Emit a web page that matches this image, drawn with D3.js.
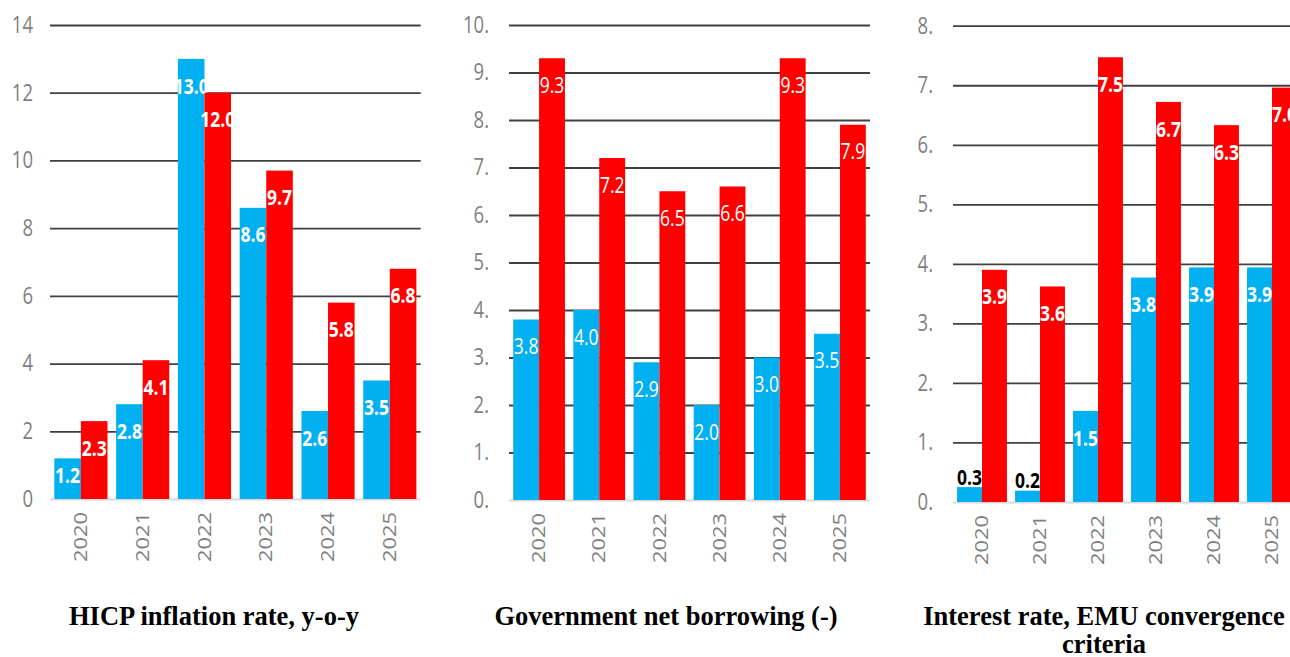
<!DOCTYPE html>
<html>
<head>
<meta charset="utf-8">
<script src="https://cdn.jsdelivr.net/npm/d3@7"></script>
<style>
  html, body { margin: 0; padding: 0; background: #fff; }
  svg { display: block; }
</style>
</head>
<body>
<svg id="chart" width="1290" height="657"></svg>
<script>
// ---------- data ----------
const years = ["2020", "2021", "2022", "2023", "2024", "2025"];

const hicpBlue = [1.2, 2.8, 13.0, 8.6, 2.6, 3.5];
const hicpRed  = [2.3, 4.1, 12.0, 9.7, 5.8, 6.8];

const borrowingBlue = [3.8, 4.0, 2.9, 2.0, 3.0, 3.5];
const borrowingRed  = [9.3, 7.2, 6.5, 6.6, 9.3, 7.9];

const rateBlue = [0.25, 0.19, 1.53, 3.77, 3.94, 3.94];
const rateRed  = [3.9, 3.62, 7.47, 6.72, 6.33, 6.96];

const hicpTicks = [0, 2, 4, 6, 8, 10, 12, 14];
const hicpTickLabels = ["0", "2", "4", "6", "8", "10", "12", "14"];
const borrowingTicks = [0, 1, 2, 3, 4, 5, 6, 7, 8, 9, 10];
const borrowingTickLabels = ["0.", "1.", "2.", "3.", "4.", "5.", "6.", "7.", "8.", "9.", "10."];
const rateTicks = [0, 1, 2, 3, 4, 5, 6, 7, 8];
const rateTickLabels = ["0.", "1.", "2.", "3.", "4.", "5.", "6.", "7.", "8."];

const titleHicp = ["HICP inflation rate, y-o-y"];
const titleBorrowing = ["Government net borrowing (-)"];
const titleRate = ["Interest rate, EMU convergence", "criteria"];

// ---------- style ----------
const BLUE = "#00b0f0", RED = "#ff0000";
const GRID = "#404040", ZERO = "#d9d9d9", TICK_TEXT = "#7f7f7f";
const FONT = "'Open Sans', sans-serif";
const STRETCH = 1.25;

const svg = d3.select("#chart");
svg.append("rect").attr("width", 1290).attr("height", 657).attr("fill", "#fff");

function drawPanel(cfg) {
  const g = svg.append("g");
  const x0 = d3.scaleBand().domain(years).range([cfg.left, cfg.right])
    .paddingInner(0.14).paddingOuter(0.07);
  const x1 = d3.scaleBand().domain(["blue", "red"]).range([0, x0.bandwidth()]);
  const y = d3.scaleLinear().domain([0, cfg.max]).range([cfg.bottom, cfg.top]);

  // y axis with gridlines
  const yAxis = d3.axisLeft(y)
    .tickValues(cfg.ticks)
    .tickFormat((d, i) => cfg.tickLabels[i])
    .tickSizeInner(-(cfg.right - cfg.left))
    .tickSizeOuter(0)
    .tickPadding(cfg.tickPad);
  const ya = g.append("g").attr("transform", `translate(${cfg.left},0)`).call(yAxis);
  ya.select(".domain").remove();
  ya.selectAll(".tick line")
    .attr("stroke", d => d === 0 ? ZERO : GRID)
    .attr("stroke-width", 1.8);
  ya.selectAll(".tick text")
    .attr("fill", TICK_TEXT)
    .style("font-family", FONT)
    .style("font-size", "18.5px")
    .attr("transform", `scale(1,${STRETCH})`);

  // x axis labels
  const xAxis = d3.axisBottom(x0).tickSize(0).tickPadding(0);
  const xa = g.append("g").attr("transform", `translate(0,${cfg.bottom})`).call(xAxis);
  xa.select(".domain").remove();
  xa.selectAll(".tick text")
    .attr("y", 0).attr("x", 0).attr("dy", "0.35em")
    .attr("text-anchor", "end")
    .attr("fill", TICK_TEXT)
    .style("font-family", FONT)
    .style("font-size", "17.5px")
    .attr("transform", `translate(0,13) scale(1,${STRETCH}) rotate(-90)`);

  const series = [
    { key: "blue", values: cfg.blue, color: BLUE },
    { key: "red", values: cfg.red, color: RED }
  ];
  const fmt = d3.format(".1f");

  series.forEach(s => {
    const sg = g.append("g");
    years.forEach((yr, i) => {
      const v = s.values[i];
      const bx = x0(yr) + x1(s.key);
      const bw = x1.bandwidth();
      const top = y(v);
      const h = y(0) - top;
      sg.append("rect")
        .attr("x", bx).attr("y", top)
        .attr("width", bw).attr("height", h)
        .attr("fill", s.color);
      const outside = h < 30;
      const cy = outside ? top - 10 : top + Math.min(27, h - 24);
      sg.append("text")
        .attr("transform", `translate(${bx + bw / 2},${cy}) scale(1,${STRETCH})`)
        .attr("dy", "0.35em")
        .attr("text-anchor", "middle")
        .attr("fill", outside ? "#000" : "#fff")
        .style("font-family", FONT)
        .style("font-size", "17.5px")
        .style("font-weight", cfg.bold ? 700 : 400)
        .text(fmt(v));
    });
  });

  // title
  const t = svg.append("text")
    .attr("x", cfg.titleX).attr("y", 625)
    .attr("text-anchor", "middle")
    .style("font-family", "'Liberation Serif', 'Times New Roman', serif")
    .style("font-weight", 700)
    .style("font-size", "26.5px")
    .attr("fill", "#000");
  cfg.title.forEach((line, i) => {
    t.append("tspan").attr("x", cfg.titleX).attr("y", 625 + i * 28).text(line);
  });
}

drawPanel({
  left: 50, right: 420.7, top: 25, bottom: 499, max: 14,
  ticks: hicpTicks, tickLabels: hicpTickLabels, tickPad: 17,
  blue: hicpBlue, red: hicpRed, bold: true,
  title: titleHicp, titleX: 214
});

drawPanel({
  left: 509, right: 870, top: 25, bottom: 500, max: 10,
  ticks: borrowingTicks, tickLabels: borrowingTickLabels, tickPad: 20,
  blue: borrowingBlue, red: borrowingRed, bold: false,
  title: titleBorrowing, titleX: 666
});

drawPanel({
  left: 953, right: 1301, top: 25.7, bottom: 502, max: 8,
  ticks: rateTicks, tickLabels: rateTickLabels, tickPad: 20,
  blue: rateBlue, red: rateRed, bold: true,
  title: titleRate, titleX: 1104
});
</script>
</body>
</html>
